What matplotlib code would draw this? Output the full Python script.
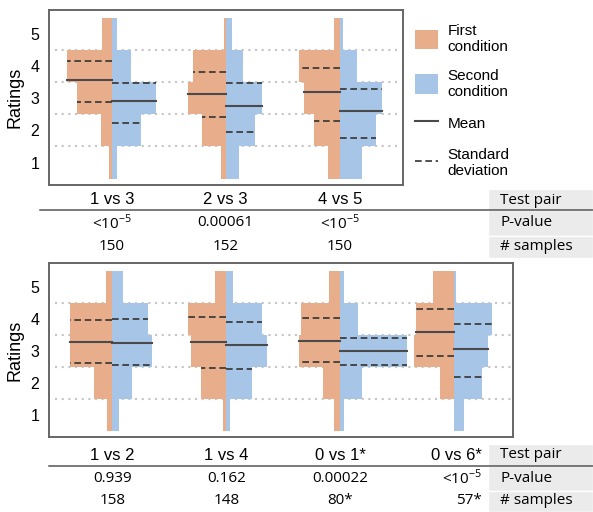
import numpy as np
import matplotlib.pyplot as plt
import matplotlib.transforms as mtransforms
from matplotlib.patches import Patch, Rectangle
from matplotlib.lines import Line2D

plt.rcParams['font.family'] = ['Liberation Sans', 'DejaVu Sans']
plt.rcParams['mathtext.fontset'] = 'custom'
plt.rcParams['mathtext.rm'] = 'Open Sans'

ratings = [1, 2, 3, 4, 5]

# top panel: share of answers per rating (1..5)
top_pairs = ['1 vs 3', '2 vs 3', '4 vs 5']
top_pvals = [r'<10$^{-5}$', '0.00061', r'<10$^{-5}$']
top_samples = ['150', '152', '150']
top_first = [[3, 10, 34, 44, 9], [5, 23, 37, 32, 2], [11, 25, 35, 40, 6]]
top_second = [[5, 29, 43, 19, 5], [13, 29, 35, 17, 6], [22, 35, 41, 17, 3]]
top_first_mean = [3.58, 3.13, 3.19]
top_first_lo = [2.88, 2.42, 2.28]
top_first_hi = [4.16, 3.83, 3.95]
top_second_mean = [2.93, 2.75, 2.59]
top_second_lo = [2.23, 1.94, 1.75]
top_second_hi = [3.49, 3.48, 3.30]

# bottom panel
bot_pairs = ['1 vs 2', '1 vs 4', '0 vs 1*', '0 vs 6*']
bot_pvals = ['0.939', '0.162', '0.00022', r'<10$^{-5}$']
bot_samples = ['158', '148', '80*', '57*']
bot_first = [[5, 18, 41, 41, 6], [3, 25, 34, 37, 11], [6, 17, 40, 38, 11], [0, 14, 39, 37, 21]]
bot_second = [[7, 19, 39, 35, 10], [4, 25, 40, 35, 7], [4, 21, 65, 17, 4], [9, 27, 33, 37, 2]]
bot_first_mean = [3.29, 3.29, 3.31, 3.58]
bot_first_lo = [2.63, 2.47, 2.64, 2.85]
bot_first_hi = [3.96, 4.06, 4.04, 4.30]
bot_second_mean = [3.24, 3.17, 3.00, 3.05]
bot_second_lo = [2.54, 2.44, 2.54, 2.17]
bot_second_hi = [3.99, 3.89, 3.40, 3.84]

row_names = ['Test pair', 'P-value', '# samples']

c_first = '#e8ae8c'
c_second = '#a7c5e6'
scale = 0.009
tfont = 'Open Sans'
tsize = 11


def line_at(ax, x, widths, val, side, style):
    k = int(round(val)) - 1
    w = widths[k] * side
    if style == 'mean':
        ax.plot([x, x + w], [val, val], color='#4a4a4a', lw=1.5, zorder=3)
    else:
        ax.plot([x, x + w], [val, val], color='#333333', lw=1.2,
                dashes=(4, 2.2), zorder=3)


def draw_panel(ax, first, second, m1, lo1, hi1, m2, lo2, hi2):
    n = len(first)
    ax.hlines([1.5, 2.5, 3.5, 4.5], 0.5, n + 0.5, colors='#c4c4c4',
              linestyles=(0, (1, 2.2)), lw=1.5, zorder=0)
    for i in range(n):
        x = i + 1
        w1 = np.array(first[i]) * scale
        w2 = np.array(second[i]) * scale
        ax.barh(ratings, -w1, height=1, left=x, color=c_first, zorder=1)
        ax.barh(ratings, w2, height=1, left=x, color=c_second, zorder=1)
        line_at(ax, x, w1, m1[i], -1, 'mean')
        line_at(ax, x, w1, lo1[i], -1, 'sd')
        line_at(ax, x, w1, hi1[i], -1, 'sd')
        line_at(ax, x, w2, m2[i], 1, 'mean')
        line_at(ax, x, w2, lo2[i], 1, 'sd')
        line_at(ax, x, w2, hi2[i], 1, 'sd')
    ax.set_ylim(0.3, 5.75)
    ax.set_yticks(ratings)
    ax.set_xticks([])
    ax.tick_params(axis='y', length=0, pad=7, labelsize=11.5)
    ax.set_ylabel('Ratings', fontsize=13, labelpad=5)
    for s in ax.spines.values():
        s.set_color('#666666')
        s.set_linewidth(1.4)


def draw_table(fig, ax, cols, ys, line_y, line_x0, right_last=False):
    tr = mtransforms.blended_transform_factory(ax.transData, fig.transFigure)
    for r, vals in enumerate(cols):
        # header row is set in the axis font, the other rows in the table font
        kw = dict(fontsize=12) if r == 0 else dict(fontsize=tsize, family=tfont)
        for i, v in enumerate(vals):
            if right_last and i == len(vals) - 1:
                fig.text(482 / 593, 1 - ys[r] / 512, v, ha='right', va='center', **kw)
            else:
                ax.text(i + 1, 1 - ys[r] / 512, v, transform=tr, ha='center',
                        va='center', **kw)
    # grey row label cells
    edges = [ys[0] - 11, line_y, (ys[1] + ys[2]) / 2 + 1, ys[2] + 11]
    for r in range(3):
        y0, y1 = edges[r], edges[r + 1]
        fig.patches.append(Rectangle((488 / 593, 1 - y1 / 512), 105 / 593,
                                     (y1 - y0) / 512, transform=fig.transFigure,
                                     facecolor='#ebebeb', edgecolor='white',
                                     lw=1, zorder=0))
        fig.text(500 / 593, 1 - ys[r] / 512, row_names[r], ha='left',
                 va='center', fontsize=tsize, family=tfont)
    fig.add_artist(Line2D([line_x0 / 593, 1], [1 - line_y / 512] * 2,
                          color='#555555', lw=1.1, transform=fig.transFigure))


fig = plt.figure(figsize=(5.93, 5.12), dpi=100)
ax1 = fig.add_axes([49 / 593, 1 - 185 / 512, 354 / 593, 175 / 512])
ax2 = fig.add_axes([49 / 593, 1 - 437 / 512, 464 / 593, 174 / 512])

draw_panel(ax1, top_first, top_second, top_first_mean, top_first_lo, top_first_hi,
           top_second_mean, top_second_lo, top_second_hi)
ax1.set_xlim(0.45, 3.555)
draw_panel(ax2, bot_first, bot_second, bot_first_mean, bot_first_lo, bot_first_hi,
           bot_second_mean, bot_second_lo, bot_second_hi)
ax2.set_xlim(0.445, 4.515)

draw_table(fig, ax1, [top_pairs, top_pvals, top_samples], [200, 223, 247], 210, 40)
draw_table(fig, ax2, [bot_pairs, bot_pvals, bot_samples], [455, 478, 501], 466, 49,
           right_last=True)

handles = [Patch(facecolor=c_first), Patch(facecolor=c_second),
           Line2D([], [], color='#4a4a4a', lw=1.5),
           Line2D([], [], color='#333333', lw=1.2, dashes=(4, 2.2))]
labels = ['First\ncondition', 'Second\ncondition', 'Mean', 'Standard\ndeviation']
fig.legend(handles, labels, loc='upper left', bbox_to_anchor=(415 / 593, 1 - 24 / 512),
           frameon=False, fontsize=11, handlelength=1.5, handleheight=1.6,
           handletextpad=0.65, labelspacing=0.95, borderpad=0, borderaxespad=0)

fig.savefig('out.png', dpi=100)
